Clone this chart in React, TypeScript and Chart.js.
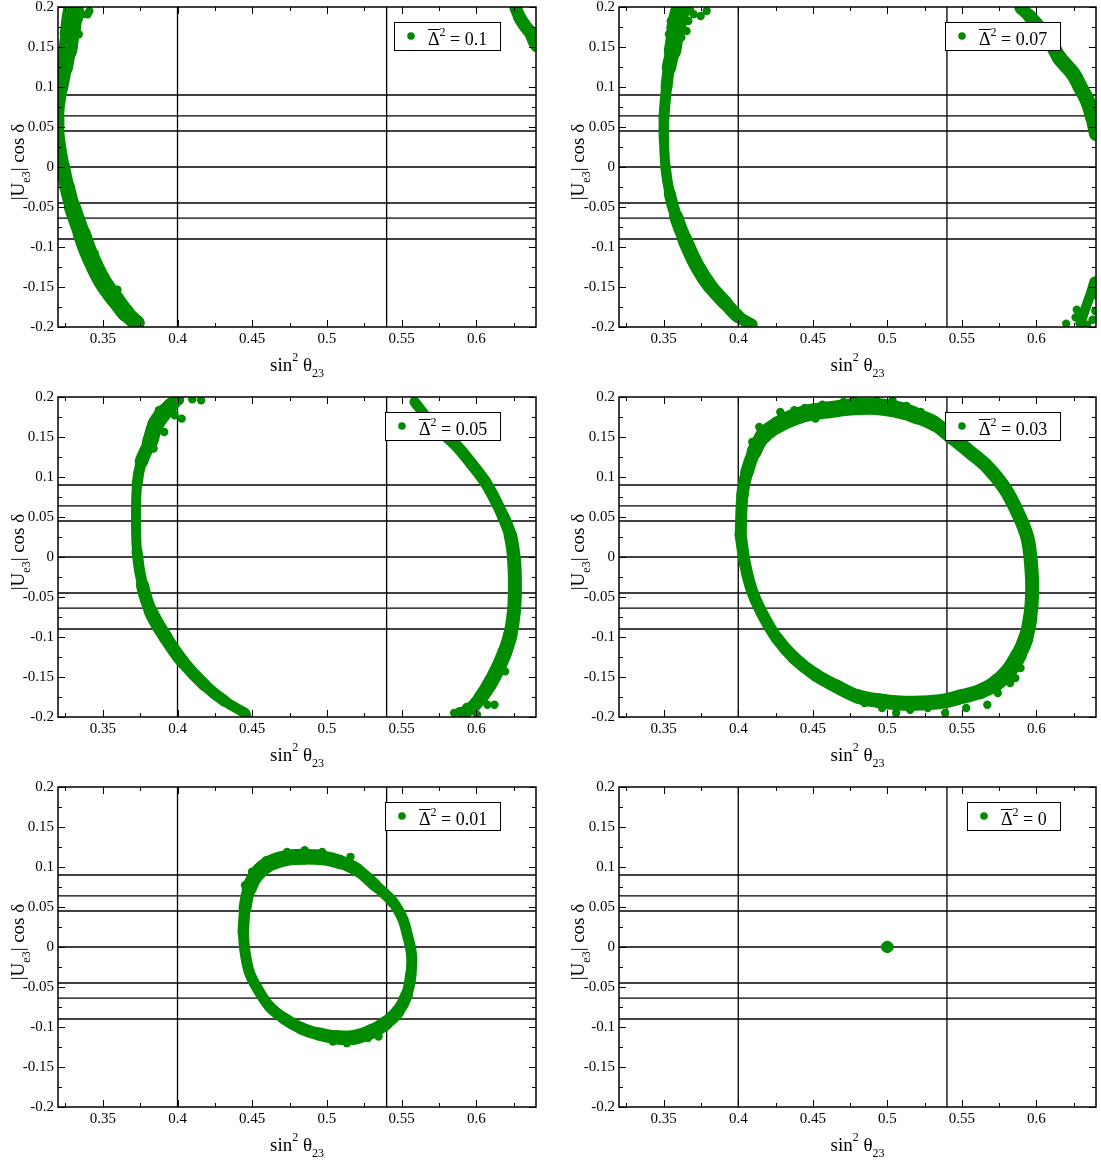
import React, { useEffect, useRef } from 'react';
import { Chart, registerables } from 'chart.js';

Chart.register(...registerables);

// ---------------- data ----------------
const xRange = [0.32, 0.64];
const yRange = [-0.2, 0.2];
const xTickValues = [0.35, 0.4, 0.45, 0.5, 0.55, 0.6];
const xTickLabels = ['0.35', '0.4', '0.45', '0.5', '0.55', '0.6'];
const xMinorTicks = [0.325, 0.375, 0.425, 0.475, 0.525, 0.575, 0.625];
const yTickValues = [0.2, 0.15, 0.1, 0.05, 0, -0.05, -0.1, -0.15, -0.2];
const yTickLabels = ['0.2', '0.15', '0.1', '0.05', '0', '-0.05', '-0.1', '-0.15', '-0.2'];
const yMinorTicks = [0.175, 0.125, 0.075, 0.025, -0.025, -0.075, -0.125, -0.175];
const hLines = [0.09, 0.064, 0.045, 0, -0.045, -0.064, -0.09];
const vLines = [0.4, 0.54];
const deltaLabels = ['0.1', '0.07', '0.05', '0.03', '0.01', '0'];

type P = [number, number];

// panel 1: Delta^2 = 0.1
const p1ArcLeft: P[] = [[0.3305,0.199],[0.3292,0.185],[0.328,0.166],[0.3264,0.145],[0.3245,0.124],[0.3221,0.1],[0.3198,0.071],[0.3198,0.0415],[0.3233,0],[0.3261,-0.025],[0.3296,-0.05],[0.3358,-0.083],[0.3398,-0.104],[0.3445,-0.124],[0.3504,-0.145],[0.3586,-0.166],[0.3656,-0.183],[0.3727,-0.195]];
const p1ArcRight: P[] = [[0.6264,0.199],[0.6292,0.1867],[0.6327,0.1763],[0.6362,0.168],[0.6386,0.1577],[0.6405,0.1515]];
const p1Fuzz: P[] = [[0.3362,0.1909],[0.3398,0.1909],[0.341,0.195],[0.3339,0.1846],[0.328,0.197],[0.3315,0.1743],[0.3339,0.166],[0.3304,0.1494],[0.328,0.1328],[0.3445,-0.1079],[0.3515,-0.1369],[0.3598,-0.1535],[0.3704,-0.1909],[0.3751,-0.1942]];

// panel 2: Delta^2 = 0.07
const p2ArcLeft: P[] = [[0.3606,0.193],[0.3583,0.174],[0.3559,0.145],[0.3535,0.124],[0.3519,0.1],[0.3502,0.062],[0.3502,0.033],[0.3512,0],[0.354,-0.033],[0.3583,-0.062],[0.3642,-0.091],[0.3724,-0.124],[0.3811,-0.149],[0.3913,-0.17],[0.4,-0.187],[0.409,-0.197]];
const p2ArcTopRight: P[] = [[0.5894,0.199],[0.5953,0.1888],[0.6083,0.16],[0.6153,0.1369],[0.6248,0.1162],[0.6295,0.0996],[0.6342,0.083],[0.6377,0.0622],[0.6401,0.0415]];
const p2ArcBottomRight: P[] = [[0.6389,-0.1432],[0.6366,-0.1577],[0.6342,-0.1701],[0.6318,-0.1826],[0.6295,-0.195]];
const p2Fuzz: P[] = [[0.3594,0.193],[0.3642,0.195],[0.3677,0.1959],[0.37,0.1909],[0.3748,0.1888],[0.3788,0.195],[0.3665,0.1826],[0.3653,0.1701],[0.3618,0.1618],[0.3547,0.1826],[0.3535,0.166],[0.62,-0.1958],[0.6271,-0.1784],[0.6377,-0.1909],[0.634,-0.197],[0.6395,-0.16],[0.6395,-0.18],[0.6263,-0.188]];

// panel 3: Delta^2 = 0.05
const p3ArcLeft: P[] = [[0.4,0.197],[0.3958,0.19],[0.3911,0.181],[0.3852,0.165],[0.3816,0.144],[0.3758,0.119],[0.3729,0.09],[0.3722,0.048],[0.3729,0.007],[0.3765,-0.035],[0.3821,-0.068],[0.3922,-0.101],[0.4035,-0.131],[0.4181,-0.16],[0.4315,-0.18],[0.4452,-0.195]];
const p3ArcRight: P[] = [[0.5588,0.1938],[0.5675,0.173],[0.5769,0.1563],[0.5864,0.1397],[0.5958,0.1189],[0.6052,0.096],[0.6122,0.0732],[0.6181,0.0503],[0.6228,0.0274],[0.6252,-0.0017],[0.6259,-0.0349],[0.6252,-0.0682],[0.6228,-0.0973],[0.6193,-0.1181],[0.6146,-0.1389],[0.6087,-0.1597],[0.6028,-0.1763],[0.5969,-0.1888],[0.5911,-0.195]];
const p3Fuzz: P[] = [[0.3993,0.1938],[0.4016,0.1958],[0.4099,0.197],[0.4158,0.1958],[0.3981,0.1771],[0.4028,0.173],[0.3875,0.1834],[0.3958,0.181],[0.3911,0.1563],[0.384,0.1356],[0.4369,-0.1867],[0.4466,-0.198],[0.5852,-0.195],[0.5887,-0.1929],[0.6005,-0.1971],[0.6122,-0.1846],[0.6193,-0.143],[0.6075,-0.1846],[0.6,-0.18],[0.5935,-0.1875]];

// panel 4: Delta^2 = 0.03 (closed band)
const p4Loop: P[] = [[0.4016,0.0274],[0.4028,0.0773],[0.4059,0.1064],[0.4106,0.1314],[0.4165,0.1511],[0.4259,0.1646],[0.4376,0.175],[0.4494,0.1812],[0.4612,0.1841],[0.4753,0.1874],[0.4894,0.1883],[0.5,0.1866],[0.5106,0.1825],[0.52,0.1762],[0.5318,0.1665],[0.5435,0.1493],[0.5553,0.1314],[0.5671,0.1127],[0.5788,0.0857],[0.5882,0.0524],[0.5941,0.0233],[0.5965,-0.01],[0.5972,-0.0432],[0.5958,-0.0765],[0.5929,-0.1015],[0.5882,-0.1222],[0.5812,-0.143],[0.5729,-0.1576],[0.5624,-0.168],[0.5506,-0.1742],[0.5365,-0.1805],[0.5224,-0.1825],[0.5082,-0.1825],[0.4941,-0.1796],[0.48,-0.1742],[0.4659,-0.1617],[0.4518,-0.1472],[0.4376,-0.1264],[0.4259,-0.1015],[0.4165,-0.0723],[0.4094,-0.0432],[0.4047,-0.01],[0.4016,0.0274]];
const p4Fuzz: P[] = [[0.4282,0.1813],[0.4376,0.1834],[0.4447,0.1863],[0.4565,0.1904],[0.4706,0.1938],[0.4776,0.1958],[0.4929,0.1958],[0.5035,0.1958],[0.5129,0.1888],[0.5224,0.1813],[0.4141,0.1626],[0.4094,0.1439],[0.4235,0.1667],[0.4518,0.173],[0.5388,-0.195],[0.5153,-0.1909],[0.4965,-0.1888],[0.5671,-0.1846],[0.5741,-0.17],[0.5824,-0.1576],[0.5529,-0.1888],[0.5271,-0.1888],[0.4847,-0.1825],[0.5059,-0.195],[0.5894,-0.1389],[0.5859,-0.1514]];

// panel 5: Delta^2 = 0.01 (closed band)
const p5Loop: P[] = [[0.444,0.0191],[0.4452,0.0482],[0.448,0.0732],[0.4534,0.0919],[0.4616,0.1044],[0.4734,0.1114],[0.4852,0.1129],[0.4969,0.1117],[0.5087,0.1063],[0.5205,0.0961],[0.5322,0.0773],[0.544,0.0565],[0.5506,0.0358],[0.5539,0.015],[0.5567,-0.01],[0.5562,-0.0349],[0.5534,-0.0599],[0.5475,-0.0807],[0.5393,-0.0952],[0.5299,-0.1056],[0.5181,-0.1129],[0.5064,-0.1129],[0.4946,-0.1088],[0.4828,-0.1015],[0.4711,-0.089],[0.4616,-0.0744],[0.4534,-0.0516],[0.448,-0.0308],[0.4452,-0.0058],[0.444,0.0191]];
const p5Fuzz: P[] = [[0.4734,0.1189],[0.4852,0.121],[0.4969,0.1189],[0.4593,0.1085],[0.4499,0.094],[0.4452,0.0773],[0.5158,0.1127],[0.5275,-0.1139],[0.5346,-0.1119],[0.5134,-0.1202],[0.504,-0.1181]];

// panel 6: Delta^2 = 0
const p6Cluster: P[] = [[0.5,0.0015],[0.5,-0.0015],[0.499,0],[0.501,0],[0.5,0]];

// ---------------- styling / layout ----------------
const GREEN = '#008b00';
const SERIF = '"Liberation Serif", "Times New Roman", serif';

// band thickness (px) along each band, one value per listed point
interface Band { pts: P[]; widths: number[] }
interface PanelCfg { label: string; bands: Band[]; fuzz: P[]; dot: number }

const panels: PanelCfg[] = [
  { label: deltaLabels[0], dot: 4.2, fuzz: p1Fuzz, bands: [
    { pts: p1ArcLeft, widths: [20,21,20,18,15,14,13,13,14,15,16,18,18,18,18,18,17,15] },
    { pts: p1ArcRight, widths: [12,13,13,13,13,13] }] },
  { label: deltaLabels[1], dot: 4.2, fuzz: p2Fuzz, bands: [
    { pts: p2ArcLeft, widths: [20,19,16,13,11,11,10,10,11,13,15,15,15,14,13,11] },
    { pts: p2ArcTopRight, widths: [12,13,14,15,15,15,15,15,14] },
    { pts: p2ArcBottomRight, widths: [10,10,10,10,10] }] },
  { label: deltaLabels[2], dot: 4.2, fuzz: p3Fuzz, bands: [
    { pts: p3ArcLeft, widths: [12,14,16,17,15,12,10,10,10,12,14,14,13,12,11,10] },
    { pts: p3ArcRight, widths: [10,11,12,12,12,12,12,12,13,14,14,14,14,15,15,15,14,13,12] }] },
  { label: deltaLabels[3], dot: 4.2, fuzz: p4Fuzz, bands: [
    { pts: p4Loop, widths: [12,12,13,14,16,17,17,17,17,17,17,17,17,16,15,14,14,14,14,14,14,14,14,14,15,16,17,16,15,15,15,15,15,15,14,14,13,13,12,12,12,12,12] }] },
  { label: deltaLabels[4], dot: 4.2, fuzz: p5Fuzz, bands: [
    { pts: p5Loop, widths: [11,12,14,16,16,16,16,15,14,13,12,11,11,11,11,11,12,13,14,15,15,14,13,12,12,11,11,11,11,11] }] },
  { label: deltaLabels[5], dot: 5, fuzz: p6Cluster, bands: [] },
];

const rowTops = [0, 390, 780];
const rowHeights = [390, 390, 382];
const colLefts = [0, 560];
const colWidths = [545, 541];
const colYAxisW = [58, 59];
const colPadR = [9, 5];
const PLOT_TOP = 7;
const PLOT_BOTTOM = 327;

type Run = { t: string; s: number; dy: number };
function runsWidth(ctx: CanvasRenderingContext2D, runs: Run[]) {
  let w = 0;
  for (const r of runs) { ctx.font = `${r.s}px ${SERIF}`; w += ctx.measureText(r.t).width; }
  return w;
}
function drawRuns(ctx: CanvasRenderingContext2D, runs: Run[], x: number, y: number) {
  let cx = x;
  for (const r of runs) {
    ctx.font = `${r.s}px ${SERIF}`;
    ctx.fillText(r.t, cx, y + r.dy);
    cx += ctx.measureText(r.t).width;
  }
}
function labelFor(values: number[], labels: string[], v: number) {
  const i = values.findIndex((q) => Math.abs(q - v) < 1e-9);
  return i >= 0 ? labels[i] : '';
}

function makeOverlay(label: string) {
  return {
    id: 'overlay',
    afterDraw(chart: any) {
      const { ctx, chartArea: a } = chart;
      const xs = chart.scales.x, ys = chart.scales.y;
      ctx.save();
      // frame
      ctx.strokeStyle = '#000';
      ctx.lineWidth = 1.5;
      ctx.strokeRect(a.left, a.top, a.right - a.left, a.bottom - a.top);
      // inward ticks on four sides
      ctx.lineWidth = 1;
      ctx.beginPath();
      const tickX = (v: number, len: number) => {
        const p = Math.round(xs.getPixelForValue(v)) + 0.5;
        ctx.moveTo(p, a.bottom); ctx.lineTo(p, a.bottom - len);
        ctx.moveTo(p, a.top); ctx.lineTo(p, a.top + len);
      };
      const tickY = (v: number, len: number) => {
        const p = Math.round(ys.getPixelForValue(v)) + 0.5;
        ctx.moveTo(a.left, p); ctx.lineTo(a.left + len, p);
        ctx.moveTo(a.right, p); ctx.lineTo(a.right - len, p);
      };
      xTickValues.forEach((v) => tickX(v, 7));
      xMinorTicks.forEach((v) => tickX(v, 4));
      yTickValues.forEach((v) => tickY(v, 7));
      yMinorTicks.forEach((v) => tickY(v, 4));
      ctx.stroke();

      // legend box
      const runs: Run[] = [{ t: '\u0394', s: 18, dy: 0 }, { t: '2', s: 12, dy: -9 }, { t: ' = ' + label, s: 18, dy: 0 }];
      const tw = runsWidth(ctx, runs);
      const bw = Math.round(34 + tw + 13);
      const bh = 28;
      const bx = Math.round(a.right - 36 - bw);
      const by = Math.round(a.top + 15);
      ctx.fillStyle = '#fff';
      ctx.fillRect(bx, by, bw, bh);
      ctx.strokeStyle = '#000';
      ctx.lineWidth = 1;
      ctx.strokeRect(bx + 0.5, by + 0.5, bw, bh);
      ctx.fillStyle = GREEN;
      ctx.beginPath();
      ctx.arc(bx + 17, by + 14, 3.8, 0, Math.PI * 2);
      ctx.fill();
      ctx.fillStyle = '#000';
      ctx.textBaseline = 'alphabetic';
      ctx.textAlign = 'left';
      drawRuns(ctx, runs, bx + 34, by + 23);
      ctx.font = `18px ${SERIF}`;
      const dw = ctx.measureText('\u0394').width;
      ctx.fillRect(bx + 34, by + 7, dw, 1);

      // x title: sin^2 theta_23
      const xRuns: Run[] = [{ t: 'sin', s: 19, dy: 0 }, { t: '2', s: 12, dy: -10 }, { t: ' \u03b8', s: 19, dy: 0 }, { t: '23', s: 12, dy: 6 }];
      const xw = runsWidth(ctx, xRuns);
      drawRuns(ctx, xRuns, (a.left + a.right) / 2 - xw / 2, a.bottom + 44);

      // y title: |U_e3| cos delta
      const yRuns: Run[] = [{ t: '|U', s: 19, dy: 0 }, { t: 'e3', s: 12, dy: 6 }, { t: '| cos \u03b4', s: 19, dy: 0 }];
      const yw = runsWidth(ctx, yRuns);
      ctx.translate(24, (a.top + a.bottom) / 2 - 5);
      ctx.rotate(-Math.PI / 2);
      drawRuns(ctx, yRuns, -yw / 2, 0);
      ctx.restore();
    },
  };
}

function PanelChart({ idx }: { idx: number }) {
  const ref = useRef<HTMLCanvasElement>(null);
  const row = Math.floor(idx / 2);
  const col = idx % 2;
  const width = colWidths[col];
  const height = rowHeights[row];
  const cfg = panels[idx];

  useEffect(() => {
    const toXY = (pts: P[]) => pts.map(([x, y]) => ({ x, y }));
    const datasets: any[] = [];
    hLines.forEach((h) => datasets.push({
      data: [{ x: xRange[0], y: h }, { x: xRange[1], y: h }],
      showLine: true, borderColor: '#000', borderWidth: 1.3, pointRadius: 0, order: 2, clip: 0,
    }));
    vLines.forEach((v) => datasets.push({
      data: [{ x: v, y: yRange[0] }, { x: v, y: yRange[1] }],
      showLine: true, borderColor: '#000', borderWidth: 1.3, pointRadius: 0, order: 2, clip: 0,
    }));
    cfg.bands.forEach((b) => {
      const w = b.widths;
      datasets.push({
        data: toXY(b.pts), showLine: true, borderColor: GREEN, borderWidth: w[0],
        borderJoinStyle: 'round', borderCapStyle: 'round', tension: 0.35,
        segment: {
          borderWidth: (c: any) => (w[c.p0DataIndex] + w[c.p1DataIndex]) / 2,
          borderCapStyle: 'round', borderJoinStyle: 'round', borderColor: GREEN,
        },
        pointRadius: 0, pointHoverRadius: 0, order: 1, clip: 0,
      });
    });
    datasets.push({
      data: toXY(cfg.fuzz), showLine: false, pointRadius: cfg.dot, pointHoverRadius: cfg.dot,
      backgroundColor: GREEN, borderWidth: 0, order: 0, clip: 0,
    });

    const chart = new Chart(ref.current as HTMLCanvasElement, {
      type: 'scatter',
      data: { datasets },
      options: {
        responsive: false,
        animation: false,
        events: [],
        layout: { padding: { top: PLOT_TOP, right: colPadR[col], left: 0, bottom: 0 } },
        plugins: { legend: { display: false }, tooltip: { enabled: false } },
        scales: {
          x: {
            type: 'linear', min: xRange[0], max: xRange[1],
            grid: { display: false, drawTicks: false }, border: { display: false },
            ticks: {
              autoSkip: false, maxRotation: 0, color: '#000', padding: 3,
              font: { family: SERIF, size: 15 },
              callback: (v: any) => labelFor(xTickValues, xTickLabels, Number(v)),
            },
            afterBuildTicks: (s: any) => { s.ticks = xTickValues.map((v) => ({ value: v })); },
            afterFit: (s: any) => { s.height = height - PLOT_BOTTOM; s.paddingLeft = 0; s.paddingRight = 0; },
          },
          y: {
            type: 'linear', min: yRange[0], max: yRange[1],
            grid: { display: false, drawTicks: false }, border: { display: false },
            ticks: {
              autoSkip: false, color: '#000', padding: 4,
              font: { family: SERIF, size: 15 },
              callback: (v: any) => labelFor(yTickValues, yTickLabels, Number(v)),
            },
            afterBuildTicks: (s: any) => { s.ticks = yTickValues.map((v) => ({ value: v })); },
            afterFit: (s: any) => { s.width = colYAxisW[col]; s.paddingTop = 0; s.paddingBottom = 0; },
          },
        },
      } as any,
      plugins: [makeOverlay(cfg.label)],
    });
    return () => chart.destroy();
  }, []);

  return (
    <canvas
      ref={ref}
      width={width}
      height={height}
      style={{ position: 'absolute', left: colLefts[col], top: rowTops[row], width, height }}
    />
  );
}

export default function App() {
  return (
    <div style={{ position: 'absolute', left: 0, top: 0, width: 1101, height: 1162, overflow: 'hidden', background: '#fff' }}>
      {panels.map((_, i) => <PanelChart key={i} idx={i} />)}
    </div>
  );
}
